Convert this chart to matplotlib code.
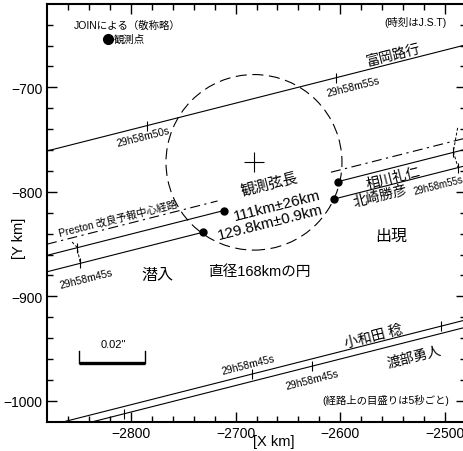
import numpy as np
import matplotlib
matplotlib.use('Agg')
import matplotlib.pyplot as plt
from matplotlib.patches import Circle

plt.rcParams['font.family'] = ['Liberation Sans', 'Noto Sans CJK JP']

# ----------------------------- データ -----------------------------------------
slope = 0.254          # 経路の傾き (dY/dX)
x_ref = -2700          # 経路の基準X

# 観測者の経路 (x_ref での Y)
path_names = ['富岡路行', '相川礼仁', '北崎勝彦', '小和田 稔', '渡部勇人']
path_y_ref = [-715.2, -815.1, -830.8, -978.4, -985.4]

# 潜入・出現 (相川, 北崎)
hit_names = ['相川礼仁', '北崎勝彦']
ingress_x = [-2711.4, -2731.5]
egress_x = [-2602.5, -2605.8]

# 経路上の目盛り (5秒ごと)
tick_x = {
    '富岡路行': [-2784.5, -2603.8],
    '相川礼仁': [-2851.3, -2492.1],
    '北崎勝彦': [-2848.4, -2487.6],
    '小和田 稔': [-2683.9, -2504.2],
    '渡部勇人': [-2806.9, -2627.1],
}

# Preston 改良予報中心経路
preston_y_ref = -804.4
preston_gap = [-2717.2, -2608.9]

# 直径168kmの円
circle_center = (-2682.4, -771.8)
circle_diam = 168

# 同時刻を結ぶ破線
time_link_x = [[-2856.1, -2851.3, -2848.4], [-2488.0, -2492.1, -2487.6]]
time_link_y = [[-848.0, -853.1, -867.3], [-738.8, -761.6, -776.8]]

# 観測点の凡例とスケール
obs_point = (-2822.2, -653.8)
scale_x = [-2849.1, -2786.1]
scale_y = -964.1

x_ticks = [-2800, -2700, -2600, -2500]
y_ticks = [-700, -800, -900, -1000]
xlim = (-2880, -2480)
ylim = (-1020, -620)


def path_y(x, y0):
    return y0 + slope * (np.asarray(x) - x_ref)


# ----------------------------- 描画 -------------------------------------------
fig = plt.figure(figsize=(4.64, 4.52), dpi=100)
ax = fig.add_axes([47 / 464, 29.3 / 452, 419 / 464, 418 / 452])
ax.set_xlim(xlim)
ax.set_ylim(ylim)

lw = 0.8
xs = np.array(xlim)

# 経路
for name, y0 in zip(path_names, path_y_ref):
    if name in hit_names:
        i = hit_names.index(name)
        for seg in ([xlim[0], ingress_x[i]], [egress_x[i], xlim[1]]):
            ax.plot(seg, path_y(seg, y0), color='black', lw=lw)
        ax.plot([ingress_x[i], egress_x[i]],
                path_y([ingress_x[i], egress_x[i]], y0),
                'o', color='black', ms=5)
    else:
        ax.plot(xs, path_y(xs, y0), color='black', lw=lw)
    tx = tick_x[name]
    ax.plot(tx, path_y(tx, y0), '|', color='black', ms=7, mew=lw)

# Preston
for seg in ([xlim[0], preston_gap[0]], [preston_gap[1], xlim[1]]):
    ax.plot(seg, path_y(seg, preston_y_ref), color='black', lw=lw,
            linestyle=(0, (9, 4, 2, 4)))

# 同時刻の破線
for lx, ly in zip(time_link_x, time_link_y):
    ax.plot(lx, ly, color='black', lw=0.7, linestyle=(0, (3, 2)))

# 円
ax.add_patch(Circle(circle_center, circle_diam / 2, fill=False, color='black',
                    lw=lw, linestyle=(0, (10, 5))))
ax.plot(*circle_center, '+', color='black', ms=14, mew=0.8)

# 観測点とスケール
ax.plot(*obs_point, 'o', color='black', ms=7)
ax.plot(scale_x, [scale_y, scale_y], color='black', lw=2.4, solid_capstyle='butt')
for sx in scale_x:
    ax.plot([sx, sx], [scale_y, scale_y + 11.5], color='black', lw=1)

# ----------------------------- 文字 -------------------------------------------
rot = 14.2


def rtext(x, y, s, size):
    ax.text(x, y, s, fontsize=size, rotation=rot, rotation_mode='anchor',
            ha='center', va='center')


ax.text(-2803.7, -640.4, 'JOINによる（敬称略）', fontsize=7.5, ha='center', va='center')
ax.text(-2816.5, -653.8, '観測点', fontsize=7.5, ha='left', va='center')
ax.text(-2528, -637.2, '(時刻はJ.S.T)', fontsize=7.5, ha='center', va='center')

rtext(-2549.5, -668.6, '富岡路行', 10)
rtext(-2587.9, -699.2, '29h58m55s', 7.5)
rtext(-2788, -746.6, '29h58m50s', 7.5)
rtext(-2812.5, -825.1, 'Preston 改良予報中心経路', 7.5)
rtext(-2842.8, -882.5, '29h58m45s', 7.5)
rtext(-2668, -793.3, '観測弦長', 10.5)
rtext(-2660, -812.4, '111km±26km', 11)
rtext(-2667.2, -829.2, '129.8km±0.9km', 11)
rtext(-2549.9, -786.2, '相川礼仁', 10)
rtext(-2561.8, -803.2, '北崎勝彦', 10)
rtext(-2506.7, -793.3, '29h58m55s', 7)
rtext(-2688.4, -964.8, '29h58m45s', 7.5)
rtext(-2626.5, -979.1, '29h58m45s', 7.5)
rtext(-2568.2, -938.0, '小和田 稔', 10)
rtext(-2529.1, -956.8, '渡部勇人', 10)

ax.text(-2774.9, -879.6, '潜入', fontsize=11.5, ha='center', va='center')
ax.text(-2551.2, -842.0, '出現', fontsize=11.5, ha='center', va='center')
ax.text(-2677.4, -875.5, '直径168kmの円', fontsize=10.5, ha='center', va='center')
ax.text(-2556.7, -998.3, '(経路上の目盛りは5秒ごと)', fontsize=7.5, ha='center', va='center')
ax.text(-2816.5, -945.7, '0.02"', fontsize=8, ha='center', va='center')

# ----------------------------- 軸 ---------------------------------------------
ax.set_xticks(x_ticks)
ax.set_yticks(y_ticks)
ax.set_xticks(np.arange(-2860, -2480, 20), minor=True)
ax.set_yticks(np.arange(-1000, -620, 20), minor=True)
ax.tick_params(which='both', direction='in', top=True, right=True, labelsize=10)
ax.tick_params(which='major', length=7, width=1, pad=3)
ax.tick_params(which='minor', length=4, width=1)
for sp in ax.spines.values():
    sp.set_linewidth(1.5)

fig.text(273.7 / 464, 1 - 442 / 452, '[X km]', fontsize=10.5, ha='center', va='center')
fig.text(19 / 464, 1 - 238 / 452, '[Y km]', fontsize=10.5, ha='center', va='center',
         rotation=90)

fig.savefig('out.png', dpi=100)
